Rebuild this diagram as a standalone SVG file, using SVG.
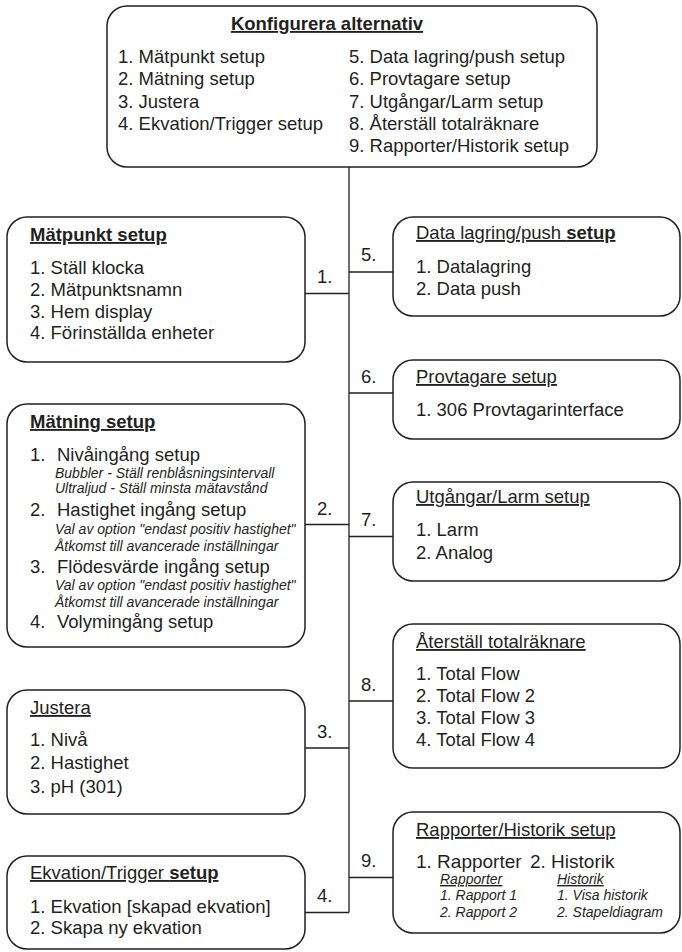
<svg xmlns="http://www.w3.org/2000/svg" width="682" height="952" viewBox="0 0 682 952">
<style>
.box{fill:#fff;stroke:#231f20;stroke-width:1.5}
text{font-family:"Liberation Sans",Arial,Helvetica,sans-serif;font-size:18.5px;fill:#231f20}
.b{font-weight:bold}
.u{text-decoration:underline}
.i{font-style:italic;font-size:14px}
.conn line{stroke:#231f20;stroke-width:1.3}
</style>
<rect width="682" height="952" fill="#fff"/>
<g id="conn" class="conn">
<line x1="349" y1="167" x2="349" y2="912.5"/>
<line x1="305" y1="293.5" x2="349" y2="293.5"/>
<line x1="349" y1="272" x2="393" y2="272"/>
<line x1="349" y1="393" x2="393" y2="393"/>
<line x1="305" y1="524.5" x2="349" y2="524.5"/>
<line x1="349" y1="536.5" x2="393" y2="536.5"/>
<line x1="349" y1="701" x2="393" y2="701"/>
<line x1="305" y1="748" x2="349" y2="748"/>
<line x1="349" y1="877.5" x2="393" y2="877.5"/>
<line x1="305" y1="912.5" x2="349" y2="912.5"/>
<text x="317" y="283">1.</text>
<text x="361" y="261">5.</text>
<text x="361" y="382.5">6.</text>
<text x="317" y="514.5">2.</text>
<text x="361" y="526">7.</text>
<text x="361" y="690.5">8.</text>
<text x="317" y="737.5">3.</text>
<text x="361" y="867">9.</text>
<text x="317" y="902">4.</text>
</g>
<g id="konfigurera">
<rect class="box" x="107" y="6" width="490" height="161" rx="20"/>
<text class="b u" x="327" y="30" text-anchor="middle">Konfigurera alternativ</text>
<text x="118" y="63">1. Mätpunkt setup</text>
<text x="118" y="85.3">2. Mätning setup</text>
<text x="118" y="107.6">3. Justera</text>
<text x="118" y="129.9">4. Ekvation/Trigger setup</text>
<text x="349" y="63">5. Data lagring/push setup</text>
<text x="349" y="85.3">6. Provtagare setup</text>
<text x="349" y="107.6">7. Utgångar/Larm setup</text>
<text x="349" y="129.9">8. Återställ totalräknare</text>
<text x="349" y="152.2">9. Rapporter/Historik setup</text>
</g>
<g id="matpunkt">
<rect class="box" x="7" y="217" width="298" height="145" rx="20"/>
<text class="b u" x="30" y="241">Mätpunkt setup</text>
<text x="30" y="274">1. Ställ klocka</text>
<text x="30" y="296">2. Mätpunktsnamn</text>
<text x="30" y="317.5">3. Hem display</text>
<text x="30" y="339">4. Förinställda enheter</text>
</g>
<g id="datalagring">
<rect class="box" x="393" y="217" width="287" height="99" rx="20"/>
<text class="u" x="416" y="239">Data lagring/push <tspan class="b">setup</tspan></text>
<text x="416" y="273">1. Datalagring</text>
<text x="416" y="295">2. Data push</text>
</g>
<g id="provtagare">
<rect class="box" x="393" y="360" width="287" height="79" rx="20"/>
<text class="u" x="416" y="383">Provtagare setup</text>
<text x="416" y="416">1. 306 Provtagarinterface</text>
</g>
<g id="matning">
<rect class="box" x="7" y="404" width="298" height="243" rx="20"/>
<text class="b u" x="30" y="428">Mätning setup</text>
<text x="30" y="461">1.</text><text x="57" y="461">Nivåingång setup</text>
<text class="i" x="55" y="478">Bubbler - Ställ renblåsningsintervall</text>
<text class="i" x="55" y="493">Ultraljud - Ställ minsta mätavstånd</text>
<text x="30" y="516">2.</text><text x="57" y="516">Hastighet ingång setup</text>
<text class="i" x="55" y="534">Val av option "endast positiv hastighet"</text>
<text class="i" x="55" y="551">Åtkomst till avancerade inställningar</text>
<text x="30" y="573">3.</text><text x="57" y="573">Flödesvärde ingång setup</text>
<text class="i" x="55" y="590">Val av option "endast positiv hastighet"</text>
<text class="i" x="55" y="607">Åtkomst till avancerade inställningar</text>
<text x="30" y="628">4.</text><text x="57" y="628">Volymingång setup</text>
</g>
<g id="utgangar">
<rect class="box" x="393" y="482" width="287" height="99" rx="20"/>
<text class="u" x="416" y="503">Utgångar/Larm setup</text>
<text x="416" y="536">1. Larm</text>
<text x="416" y="559">2. Analog</text>
</g>
<g id="aterstall">
<rect class="box" x="393" y="624" width="287" height="144" rx="20"/>
<text class="u" x="416" y="648">Återställ totalräknare</text>
<text x="416" y="680">1. Total Flow</text>
<text x="416" y="702">2. Total Flow 2</text>
<text x="416" y="724">3. Total Flow 3</text>
<text x="416" y="746">4. Total Flow 4</text>
</g>
<g id="justera">
<rect class="box" x="7" y="690" width="298" height="124" rx="20"/>
<text class="u" x="30" y="714">Justera</text>
<text x="30" y="746">1. Nivå</text>
<text x="30" y="769">2. Hastighet</text>
<text x="30" y="793">3. pH (301)</text>
</g>
<g id="rapporter">
<rect class="box" x="393" y="812" width="287" height="121" rx="20"/>
<text class="u" x="416" y="836">Rapporter/Historik setup</text>
<text x="416" y="868" style="font-size:19px">1. Rapporter</text>
<text x="530" y="868" style="font-size:19px">2. Historik</text>
<text class="i u" x="440" y="884">Rapporter</text>
<text class="i u" x="557" y="884">Historik</text>
<text class="i" x="440" y="900">1. Rapport 1</text>
<text class="i" x="557" y="900">1. Visa historik</text>
<text class="i" x="440" y="917">2. Rapport 2</text>
<text class="i" x="557" y="917">2. Stapeldiagram</text>
</g>
<g id="ekvation">
<rect class="box" x="7" y="856" width="298" height="93" rx="20"/>
<text class="u" x="30" y="879">Ekvation/Trigger <tspan class="b">setup</tspan></text>
<text x="30" y="913">1. Ekvation [skapad ekvation]</text>
<text x="30" y="934">2. Skapa ny ekvation</text>
</g>
</svg>
